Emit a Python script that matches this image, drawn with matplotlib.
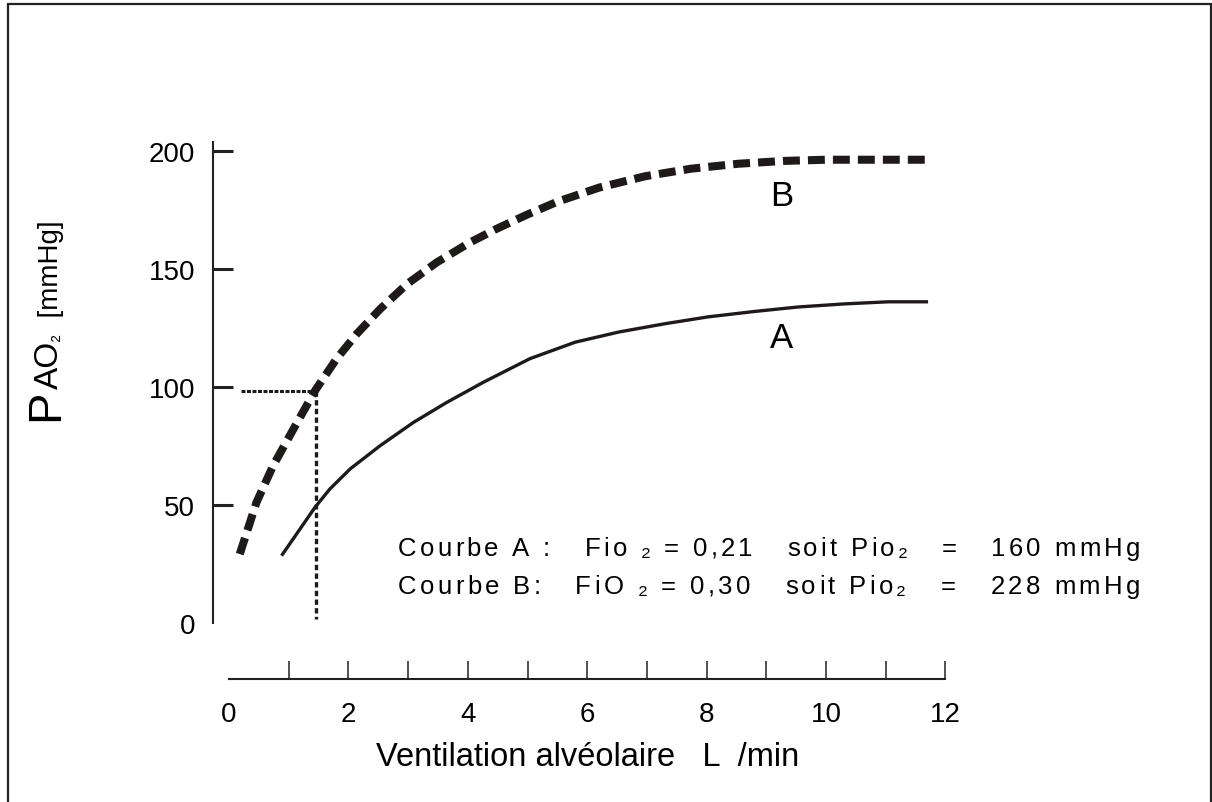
import matplotlib
matplotlib.use("Agg")
import matplotlib.pyplot as plt
from matplotlib.patches import Rectangle

plt.rcParams['font.family'] = ['Liberation Sans', 'DejaVu Sans']

# curve B (FiO2 = 0.30), thick dashed
b_x = [0.18, 0.46, 0.74, 1.08, 1.44, 1.80, 2.14, 2.53, 2.98, 3.48, 4.04, 4.48,
       4.99, 5.50, 6.20, 6.97, 7.74, 8.53, 9.30, 10.0, 11.73]
b_y = [29.2, 51.1, 66.7, 82.2, 98.4, 111.9, 122.5, 133.0, 143.6, 152.8, 161.3, 167.0,
       173.0, 178.5, 184.5, 189.3, 192.5, 194.6, 195.8, 196.3, 196.3]

# curve A (FiO2 = 0.21), solid
a_x = [0.88, 1.44, 1.69, 2.03, 2.53, 3.09, 3.65, 4.26, 5.04, 5.80, 6.53, 7.30,
       8.02, 8.80, 9.53, 10.3, 11.04, 11.71]
a_y = [28.5, 49.0, 56.8, 65.3, 75.1, 85.0, 93.5, 102.0, 112.0, 119.0, 123.3, 126.8,
       129.7, 132.0, 133.9, 135.2, 136.1, 136.1]

# reading of PAO2 = 100 on curve B
read_x = 1.45
read_y = 98.3

x_ticks = [0, 2, 4, 6, 8, 10, 12]
x_minor = [1, 3, 5, 7, 9, 11]
y_ticks = [0, 50, 100, 150, 200]

legend_lines = ["Courbe A :   Fio \u2082 = 0,21   soit Pio\u2082   =   160 mmHg",
                "Courbe B:   FiO \u2082 = 0,30   soit Pio\u2082   =   228 mmHg"]

W, H = 1212, 803
fig = plt.figure(figsize=(W / 100, H / 100), dpi=100)
ax = fig.add_axes([229 / W, 179 / H, 716.4 / W, 472 / H])
ax.set_xlim(0, 12)
ax.set_ylim(0, 200)

# frame round the picture
fig.patches.append(Rectangle((8 / W, -0.05), 1202.5 / W, 1.05 - 5 / H,
                             transform=fig.transFigure, fill=False,
                             edgecolor='#222222', linewidth=1.6))

for s in ['top', 'right']:
    ax.spines[s].set_visible(False)
ax.spines['left'].set_position(('outward', 11.5))
ax.spines['bottom'].set_position(('outward', 40.3))
ax.spines['left'].set_bounds(0, 204)
ax.spines['bottom'].set_bounds(0, 12)
for s in ['left', 'bottom']:
    ax.spines[s].set_linewidth(1.5)
    ax.spines[s].set_color('#222222')

ax.set_yticks(y_ticks)
ax.set_xticks(x_ticks)
ax.set_xticks(x_minor, minor=True)
ax.tick_params(axis='y', direction='in', length=14.4, width=2.2, pad=13,
               labelsize=20, color='#222222')
ax.tick_params(axis='x', which='both', direction='in', length=13, width=1.1,
               pad=16, labelsize=20, color='#222222')
ax.xaxis.get_major_ticks()[0].tick1line.set_visible(False)
ax.yaxis.get_major_ticks()[0].tick1line.set_visible(False)

# curves
ax.plot(b_x, b_y, color='#1e1a1a', linewidth=5.8, linestyle=(0, (2.1, 1.0)),
        clip_on=False)
ax.plot(a_x, a_y, color='#1e1a1a', linewidth=2.4, solid_capstyle='butt',
        solid_joinstyle='round', clip_on=False)

# dotted reading lines
ax.plot([0.2, read_x], [read_y, read_y], color='#1e1a1a', linewidth=2.2,
        linestyle=(0, (1.3, 0.5)), clip_on=False)
ax.plot([read_x, read_x], [read_y, 1.7], color='#1e1a1a', linewidth=2.4,
        linestyle=(0, (1.6, 1.0)), clip_on=False)

ax.text(9.25, 181, 'B', fontsize=25, ha='center', va='center')
ax.text(9.25, 121, 'A', fontsize=25, ha='center', va='center')

ax.text(6, -56.4, 'Ventilation alvéolaire   L  /min', fontsize=23.5,
        ha='center', va='center')

fig.canvas.draw()
rend = fig.canvas.get_renderer()


def spaced_text(s, x0, x1, base_y, size):
    # letter-spaced line running from pixel x0 to x1
    widths = []
    for ch in s:
        if ch == ' ':
            widths.append(size * 0.278 * 100 / 72)
        else:
            t = fig.text(0, 0, ch, fontsize=size)
            widths.append(t.get_window_extent(rend).width)
            t.remove()
    track = (x1 - x0 - sum(widths)) / (len(s) - 1)
    cx = x0
    for ch, w in zip(s, widths):
        if ch != ' ':
            fig.text(cx / W, (H - base_y) / H, ch, fontsize=size,
                     ha='left', va='baseline')
        cx += w + track


spaced_text(legend_lines[0], 398, 1140, 556, 18.5)
spaced_text(legend_lines[1], 398, 1140, 594, 18.5)

# y label built from pieces of different sizes
base_x = 58 / W
cur_y = (H - 421) / H
for txt, size in [('P', 34), ('AO', 24), ('\u2082', 15), ('  [mmHg]', 20)]:
    t = fig.text(base_x, cur_y, txt, fontsize=size, rotation=90,
                 rotation_mode='anchor', ha='left', va='baseline')
    bb = t.get_window_extent(rend)
    cur_y += bb.height / H

fig.savefig('out.png', dpi=100)
